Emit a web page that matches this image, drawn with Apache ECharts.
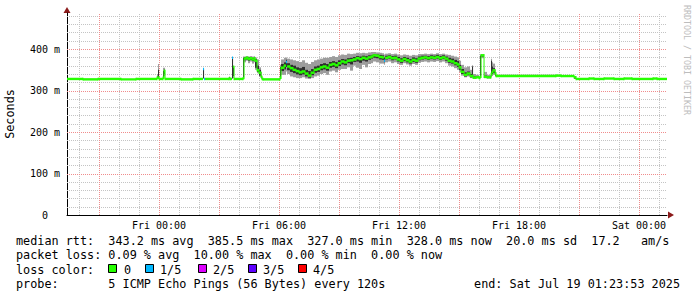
<!DOCTYPE html>
<html><head><meta charset="utf-8">
<script src="https://cdn.jsdelivr.net/npm/echarts@6/dist/echarts.min.js"></script>
<style>html,body{margin:0;padding:0;background:#fff}#c{width:697px;height:297px}</style>
</head><body><div id="c"></div>
<script>
// sample start times, minutes relative to Fri 00:00 (each sample holds until the next one)
const times = [
 -277,-228,-183,-114,-69,-6,-3,0,12,15,
 18,66,102,132,135,138,210,213,219,222,
 225,252,255,261,267,273,279,285,288,294,
 300,306,309,312,363,366,375,381,384,393,
 402,411,420,429,438,447,456,465,474,483,
 492,501,510,519,528,537,546,555,564,573,
 582,591,600,609,618,627,636,642,651,660,
 669,675,678,687,696,705,714,723,732,741,
 750,759,768,777,786,795,804,813,822,831,
 840,849,858,867,876,885,894,900,906,915,
 924,933,939,942,951,960,963,966,975,984,
 996,999,1002,1008,1011,1191,1206,1245,1251,1290,
 1305,1335,1365,1395,1419,1482,1494];
const endMinute = 1524;
// sorted ping values (ms): min, low, median, high, max
const pingMin = [
 327,326,327,326,327,328,328,327,328,335,
 327,326,327,328,327,327,328,327,328,330,
 327,328,368,372,366,370,365,368,350,342,
 333,328,327,326,328,338,338,346,340,334,
 332,330,330,332,329,328,330,334,336,340,
 342,338,346,348,344,350,352,352,356,348,
 360,355,352,362,356,364,366,370,368,365,
 365,362,368,370,366,368,364,362,366,363,
 360,364,362,367,369,370,368,370,369,371,
 368,370,366,360,358,354,350,345,336,332,
 334,330,330,329,330,328,330,378,330,329,
 333,335,338,334,333,334,333,328,327,328,
 327,328,327,328,327,328,327];
const pingLow = [
 328,327,328,327,328,329,330,328,330,340,
 328,327,328,330,328,328,328,328,330,335,
 328,330,373,375,372,374,371,373,355,345,
 336,330,328,326,330,347,351,357,349,345,
 342,339,337,339,334,331,337,343,345,349,
 351,348,355,357,354,359,363,361,366,363,
 369,370,367,372,370,374,377,379,378,375,
 374,368,375,377,373,375,370,367,371,368,
 365,369,367,373,375,376,374,376,375,377,
 374,376,372,367,365,361,357,350,340,334,
 337,332,333,330,331,329,332,382,331,331,
 337,340,342,336,334,335,334,329,328,328,
 328,328,328,328,328,328,328];
const median = [
 328,327,328,327,328,331,331,328,331,347,
 328,327,328,352,328,328,329,328,379,357,
 328,330,377,379,376,378,375,378,372,349,
 343,333,328,327,331,355,360,369,358,354,
 350,347,344,346,341,336,343,350,352,356,
 358,355,362,364,361,366,370,368,372,373,
 375,378,376,379,377,380,382,385,384,381,
 380,372,379,381,378,379,375,372,376,373,
 370,374,372,377,379,380,378,380,379,381,
 378,380,377,372,370,366,363,356,345,338,
 341,335,335,331,332,330,333,385,333,332,
 340,345,349,341,335,336,335,332,328,329,
 328,329,328,329,328,329,328];
const pingHigh = [
 328,328,328,328,328,334,350,328,347,350,
 328,328,328,352,329,328,331,328,380,358,
 328,379,380,381,380,381,379,380,376,360,
 350,336,329,327,357,364,368,374,366,362,
 360,356,354,357,350,347,352,358,360,364,
 366,364,369,371,369,373,376,375,378,379,
 381,383,382,384,383,385,386,388,387,386,
 385,380,384,385,383,384,381,378,381,379,
 376,380,378,382,384,384,383,385,384,386,
 383,385,382,379,377,374,371,362,352,344,
 346,340,358,334,334,331,384,386,336,334,
 372,358,354,345,336,337,336,333,328,329,
 328,329,328,329,328,329,328];
const pingMax = [
 329,328,329,328,329,340,364,330,355,355,
 329,328,329,353,330,329,334,329,381,360,
 329,382,382,383,382,383,382,383,380,375,
 356,345,331,328,362,375,379,380,377,375,
 373,371,369,373,367,364,369,373,375,377,
 379,379,381,383,381,385,387,386,389,388,
 389,391,390,391,390,392,393,393,392,391,
 390,387,389,390,388,389,387,385,387,386,
 384,386,385,388,388,389,388,389,388,390,
 388,389,387,386,384,382,380,372,362,356,
 358,350,361,340,338,334,387,387,345,338,
 377,368,365,350,338,338,337,334,329,330,
 329,330,329,330,329,330,329];
// lost pings out of 5 per sample
const lossCount = [
 0,0,0,0,0,0,0,0,0,0,
 0,0,0,1,1,0,0,0,1,0,
 0,0,0,0,0,0,0,0,0,0,
 0,0,0,0,0,0,0,1,0,0,
 0,0,0,0,0,0,0,0,0,0,
 0,0,0,0,0,0,0,0,0,0,
 0,0,0,0,0,0,0,0,0,0,
 0,1,0,0,0,0,0,0,0,0,
 0,0,0,0,0,0,0,0,0,0,
 0,0,0,0,0,0,0,0,0,0,
 0,0,0,0,0,0,0,0,0,0,
 0,0,0,0,0,0,0,0,0,0,
 0,0,0,0,0,0,0];

// axis range: Thu 19:23:53 .. Sat 01:23:53 (hours relative to Fri 00:00)
const xStartHour = -(4 + 36/60 + 7/3600);
const xEndHour = 25 + 23/60 + 53/3600;
const yMax = 487;
// ticks / grid positions
const hourTicks = [-4,-3,-2,-1,0,1,2,3,4,5,6,7,8,9,10,11,12,13,14,15,16,17,18,19,20,21,22,23,24,25];
const majorHourTicks = [-3,0,3,6,9,12,15,18,21,24];
const labelHourTicks = [0,6,12,18,24];
const xTickLabels = ['Fri 00:00','Fri 06:00','Fri 12:00','Fri 18:00','Sat 00:00'];
const valueTicks = [20,40,60,80,100,120,140,160,180,200,220,240,260,280,300,320,340,360,380,400,420,440,460,480];
const majorValueTicks = [100,200,300,400];
const yTickLabels = {0:'0', 100:'100 m', 200:'200 m', 300:'300 m', 400:'400 m'};

const lossLabels = ['0','1/5','2/5','3/5','4/5'];
const lossColors = ['#26ff00','#00b8ff','#dd00ff','#5e00ff','#ff0000'];
const statLines = [
 'median rtt:  343.2 ms avg  385.5 ms max  327.0 ms min  328.0 ms now  20.0 ms sd  17.2   am/s',
 'packet loss: 0.09 % avg  10.00 % max  0.00 % min  0.00 % now'
];
const lossTitle = 'loss color:';
const probeLine = 'probe:       5 ICMP Echo Pings (56 Bytes) every 120s';
const endLine = 'end: Sat Jul 19 01:23:53 2025';
const yName = 'Seconds';
const watermark = 'RRDTOOL / TOBI OETIKER';

const rows = times.map((t, i) => [
  t / 60,
  (i + 1 < times.length ? times[i + 1] : endMinute) / 60,
  pingMin[i], pingLow[i], median[i], pingHigh[i], pingMax[i], lossCount[i]
]);

const MONO = '"DejaVu Sans Mono", monospace';
const legendFont = '11.8px ' + MONO;
const MINOR = '#c4c4c4', MAJOR = '#f08c8c';

function gridItem(params, api) {
  const children = [];
  const y0 = api.coord([xStartHour, 0])[1], y1 = api.coord([xStartHour, yMax])[1];
  const x0 = api.coord([xStartHour, 0])[0], x1 = api.coord([xEndHour, 0])[0];
  const vline = (h, col) => {
    const x = Math.round(api.coord([h, 0])[0]) + 0.5;
    children.push({type:'line', shape:{x1:x, y1:y0, x2:x, y2:y1}, style:{stroke:col, lineWidth:1, lineDash:[1,1]}});
  };
  const hline = (v, col) => {
    const y = Math.round(api.coord([xStartHour, v])[1]) + 0.5;
    children.push({type:'line', shape:{x1:x0, y1:y, x2:x1, y2:y}, style:{stroke:col, lineWidth:1, lineDash:[1,1]}});
  };
  hourTicks.filter(h => majorHourTicks.indexOf(h) < 0).forEach(h => vline(h, MINOR));
  valueTicks.filter(v => majorValueTicks.indexOf(v) < 0).forEach(v => hline(v, MINOR));
  majorHourTicks.forEach(h => vline(h, MAJOR));
  majorValueTicks.forEach(v => hline(v, MAJOR));
  return {type:'group', children};
}

function smokeItem(params, api) {
  const t0 = api.value(0), t1 = api.value(1);
  const a = api.coord([t0, api.value(2)]), b = api.coord([t1, api.value(6)]);
  const c = api.coord([t0, api.value(3)]), d = api.coord([t1, api.value(5)]);
  return {type:'group', children:[
    {type:'rect', shape:{x:a[0], y:b[1], width:b[0]-a[0], height:a[1]-b[1]}, style:{fill:'#9c9c9c'}},
    {type:'rect', shape:{x:c[0], y:d[1], width:d[0]-c[0], height:c[1]-d[1]}, style:{fill:'#2e2e2e'}}
  ]};
}
const LW = 2.4;
const VW = 1;
function medianItem(params, api) {
  const i = params.dataIndex;
  const t0 = api.value(0), t1 = api.value(1), m = api.value(4), loss = api.value(7);
  const p0 = api.coord([t0, m]), p1 = api.coord([t1, m]);
  const col = lossColors[loss];
  const children = [{type:'rect', shape:{x:p0[0], y:p0[1]-LW/2, width:p1[0]-p0[0], height:LW}, style:{fill:col}}];
  if (i > 0 && loss === 0 && lossCount[i-1] === 0) {
    const q = api.coord([t0, median[i-1]]);
    const top = Math.min(q[1], p0[1]) - LW/2, bot = Math.max(q[1], p0[1]) + LW/2;
    children.push({type:'rect', shape:{x:p0[0]-VW/2, y:top, width:VW, height:bot-top}, style:{fill:col}});
  }
  return {type:'group', children};
}

function xLabel(v) {
  const k = labelHourTicks.findIndex(h => Math.abs(h - v) < 1e-6);
  return k >= 0 ? xTickLabels[k] : '';
}

const graphic = [];
statLines.forEach((s, k) => graphic.push({type:'text', x:16, y:241 + k*14.3,
  style:{text:s, font:legendFont, fill:'#000', align:'left', verticalAlign:'middle', textVerticalAlign:'middle'}}));
graphic.push({type:'text', x:16, y:269.5, style:{text:lossTitle, font:legendFont, fill:'#000', align:'left', verticalAlign:'middle', textVerticalAlign:'middle'}});
const boxX = [108, 145, 198, 248, 298];
const labX = [124, 160, 213, 263, 313];
lossLabels.forEach((lab, k) => {
  graphic.push({type:'rect', shape:{x:boxX[k]+0.5, y:264.5, width:8, height:8}, style:{fill:lossColors[k], stroke:'#000', lineWidth:1}});
  graphic.push({type:'text', x:labX[k], y:269.5, style:{text:lab, font:legendFont, fill:'#000', align:'left', verticalAlign:'middle', textVerticalAlign:'middle'}});
});
graphic.push({type:'text', x:16, y:283.5, style:{text:probeLine, font:legendFont, fill:'#000', align:'left', verticalAlign:'middle', textVerticalAlign:'middle'}});
graphic.push({type:'text', x:680, y:283.5, style:{text:endLine, font:legendFont, fill:'#000', align:'right', textAlign:'right', verticalAlign:'middle', textVerticalAlign:'middle'}});
graphic.push({type:'text', x:10, y:114, rotation:Math.PI/2, style:{text:yName, font:legendFont, fill:'#000', align:'center', textAlign:'center', verticalAlign:'middle', textVerticalAlign:'middle'}});
graphic.push({type:'text', x:686.5, y:60, rotation:-Math.PI/2, style:{text:watermark, font:'8.3px ' + MONO, fill:'#bdbdbd', align:'center', textAlign:'center', verticalAlign:'middle', textVerticalAlign:'middle'}});
// axis arrows
graphic.push({type:'polygon', shape:{points:[[63.5,13],[70.5,13],[67,7]]}, style:{fill:'#8b1a1a'}});
graphic.push({type:'polygon', shape:{points:[[668,211.5],[668,218.5],[674,215]]}, style:{fill:'#8b1a1a'}});

const chart = echarts.init(document.getElementById('c'), null, {renderer:'svg'});
chart.setOption({
  animation:false,
  backgroundColor:'#ffffff',
  grid:{left:67, right:30, top:13, bottom:82},
  xAxis:{type:'value', position:'bottom', min:xStartHour, max:xEndHour, splitNumber:10,
     axisLine:{show:true, onZero:false, lineStyle:{color:'#000', width:1}}, axisTick:{show:false},
     axisLabel:{show:true, interval:0, margin:5, customValues:labelHourTicks, formatter:xLabel,
       color:'#000', fontFamily:MONO, fontSize:10, showMinLabel:true, showMaxLabel:true},
     splitLine:{show:false}},
  yAxis:{type:'value', position:'left', min:0, max:yMax, interval:100,
     axisLine:{show:true, onZero:false, lineStyle:{color:'#000', width:1}}, axisTick:{show:false},
     axisLabel:{show:true, margin:7, color:'#000', fontFamily:MONO, fontSize:10,
       formatter: v => v === 0 ? '{z|0}' : (yTickLabels[v] || ''),
       rich:{z:{fontFamily:MONO, fontSize:10, color:'#000', padding:[0,12,0,0]}}},
     splitLine:{show:false}},
  series:[
    {type:'custom', name:'grid', clip:true, z:1, renderItem:gridItem, data:[[0, 0]], silent:true},
    {type:'custom', name:'smoke', clip:true, z:2,
     renderItem:smokeItem, encode:{x:[0,1], y:[2,3,4,5,6]}, data:rows, silent:true},
    {type:'custom', name:'median', clip:true, z:3,
     renderItem:medianItem, encode:{x:[0,1], y:[4]}, data:rows, silent:true}
  ],
  graphic:graphic
});
</script>
</body></html>
